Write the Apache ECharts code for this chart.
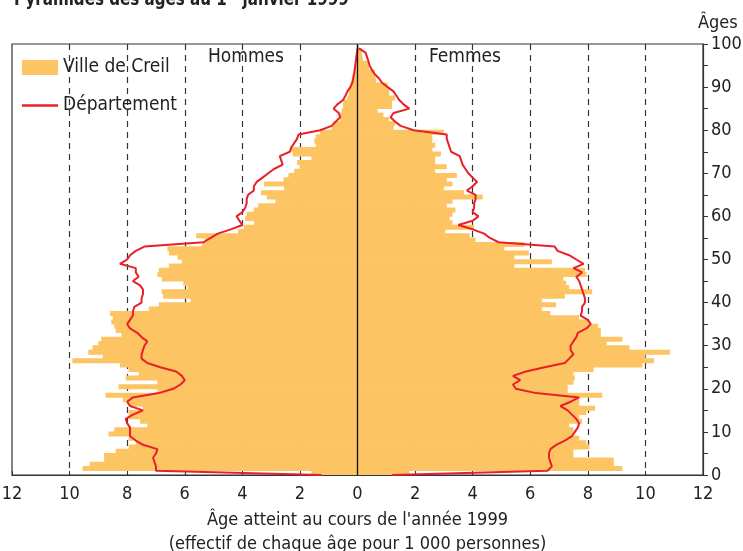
<!DOCTYPE html>
<html>
<head>
<meta charset="utf-8">
<script src="https://cdn.jsdelivr.net/npm/echarts@6/dist/echarts.min.js"></script>
<style>
  html, body { margin: 0; padding: 0; background: #fff; }
  #chart { width: 743px; height: 551px; }
</style>
</head>
<body>
<div id="chart"></div>
<script>
// ages 0..99 (one bar per year of age)
const ages = Array.from({ length: 100 }, (_, i) => i);

// Ville de Creil, effectif pour 1 000 personnes
const hommesCreil = [
  1.6, 9.55, 9.3, 8.8, 8.8, 8.4, 7.95, 7.7, 7.95, 8.65,
  8.45, 7.3, 7.55, 7.95, 7.95, 7.45, 7.95, 8.15, 8.75, 6.95,
  8.3, 6.95, 8.05, 7.6, 7.95, 8.25, 9.9, 8.85, 9.35, 9.2,
  9.0, 8.9, 8.2, 8.4, 8.45, 8.55, 8.5, 8.6, 7.25, 6.9,
  5.8, 6.75, 6.8, 5.9, 6.05, 6.8, 6.95, 6.9, 6.55, 6.1,
  6.25, 6.55, 6.6, 5.4, 5.3, 5.6, 4.15, 3.95, 3.6, 3.9,
  3.85, 3.6, 3.45, 2.85, 3.15, 3.35, 2.55, 3.25, 2.57, 2.4,
  2.2, 2.0, 2.1, 1.6, 2.25, 2.3, 1.45, 1.5, 1.45, 1.3,
  0.9, 0.85, 0.6, 0.6, 0.55, 0.5, 0.5, 0.35, 0.3, 0.3,
  0.25, 0.2, 0.18, 0.12, 0.1, 0.08, 0.06, 0.04, 0.03, 0.01
];
const femmesCreil = [
  1.8, 9.2, 8.9, 8.9, 7.5, 7.5, 8.05, 7.95, 7.7, 7.5,
  7.5, 7.35, 7.8, 7.7, 7.95, 8.25, 7.7, 7.7, 8.5, 7.3,
  7.3, 7.5, 7.55, 7.5, 8.2, 9.9, 10.3, 10.0, 10.85, 9.45,
  8.65, 9.2, 8.45, 8.45, 8.35, 8.05, 7.7, 6.7, 6.4, 6.9,
  6.4, 7.2, 8.15, 7.35, 7.25, 7.15, 7.95, 7.9, 5.45, 6.75,
  5.45, 5.95, 5.1, 5.8, 4.1, 3.9, 3.05, 4.05, 3.3, 3.2,
  3.3, 3.4, 3.1, 3.3, 4.35, 3.7, 3.0, 3.3, 3.1, 3.45,
  2.7, 3.1, 2.7, 2.7, 2.9, 2.6, 2.7, 2.6, 2.6, 3.0,
  1.25, 1.3, 1.1, 0.9, 0.7, 1.2, 1.2, 1.3, 1.1, 1.1,
  1.05, 0.65, 0.62, 0.6, 0.4, 0.38, 0.18, 0.16, 0.15, 0.05
];

// Département
const hommesDept = [
  1.25, 7.0, 7.0, 7.05, 7.1, 7.0, 6.95, 7.45, 7.7, 7.9,
  7.9, 7.9, 8.0, 8.05, 7.8, 7.45, 7.9, 8.0, 7.8, 6.9,
  6.4, 6.15, 6.0, 6.1, 6.3, 6.85, 7.3, 7.5, 7.5, 7.45,
  7.4, 7.3, 7.5, 7.65, 7.9, 8.0, 7.9, 7.8, 7.8, 7.75,
  7.5, 7.5, 7.45, 7.45, 7.55, 7.8, 7.6, 7.7, 7.7, 8.25,
  8.0, 7.9, 7.7, 7.4, 5.35, 5.1, 4.85, 4.4, 4.0, 4.1,
  4.2, 4.0, 3.9, 3.85, 3.85, 3.8, 3.6, 3.6, 3.5, 3.3,
  3.1, 2.9, 2.6, 2.65, 2.7, 2.35, 2.3, 2.2, 2.1, 2.05,
  1.3, 0.9, 0.75, 0.6, 0.65, 0.83, 0.7, 0.5, 0.42, 0.35,
  0.25, 0.18, 0.15, 0.12, 0.1, 0.08, 0.06, 0.04, 0.02, 0.0
];
const femmesDept = [
  1.2, 6.6, 6.75, 6.7, 6.65, 6.65, 6.7, 6.9, 7.2, 7.45,
  7.55, 7.65, 7.7, 7.6, 7.45, 7.3, 7.05, 7.4, 7.7, 6.2,
  5.5, 5.4, 5.65, 5.4, 5.85, 6.5, 7.2, 7.35, 7.5, 7.4,
  7.4, 7.5, 7.6, 7.65, 7.95, 8.1, 8.0, 7.75, 7.8, 7.8,
  7.9, 7.9, 7.85, 7.8, 7.75, 7.7, 7.6, 7.8, 7.5, 7.85,
  7.6, 7.35, 6.95, 6.85, 4.9, 4.6, 4.4, 4.0, 3.5, 4.0,
  4.2, 4.0, 4.05, 4.05, 4.1, 4.1, 3.8, 4.0, 4.15, 4.0,
  3.85, 3.75, 3.65, 3.6, 3.55, 3.25, 3.2, 3.15, 3.1, 3.1,
  1.95, 1.5, 1.3, 1.15, 1.25, 1.8, 1.6, 1.45, 1.35, 1.25,
  1.05, 0.85, 0.75, 0.6, 0.5, 0.42, 0.38, 0.33, 0.28, 0.05
];

const FONT = "'Liberation Sans Narrow', 'DejaVu Sans Condensed', sans-serif";
const ORANGE = '#FDC463';
const RED = '#E8202A';
const INK = '#222';

const chart = echarts.init(document.getElementById('chart'));

const option = {
  animation: false,
  textStyle: { fontFamily: FONT },
  grid: {
    left: 12, right: 40, top: 44, bottom: 76,
    outerBoundsMode: 'none',
    show: true, borderColor: '#333', borderWidth: 1.2
  },
  legend: {
    orient: 'vertical',
    left: 22, top: 58, padding: 0,
    itemWidth: 36, itemHeight: 15, itemGap: 19,
    textStyle: { fontSize: 19, color: INK, fontFamily: FONT },
    data: [
      { name: 'Ville de Creil', icon: 'rect' },
      { name: 'Département', icon: 'path://M0,0 L34,0 L34,2.2 L0,2.2 Z' }
    ]
  },
  graphic: [
    {
      type: 'text', x: 14, y: 9.5, scaleX: 0.84,
      style: {
        text: 'Pyramides des âges au 1{sup|er} janvier 1999',
        font: 'bold 20px ' + FONT, fill: INK, verticalAlign: 'bottom',
        rich: { sup: { fontSize: 12, fontWeight: 'bold', verticalAlign: 'top', fontFamily: FONT } }
      }
    },
    {
      type: 'text', x: 246, y: 57,
      style: { text: 'Hommes', font: '19px ' + FONT, fill: INK, align: 'center', verticalAlign: 'middle' }
    },
    {
      type: 'text', x: 465, y: 57,
      style: { text: 'Femmes', font: '19px ' + FONT, fill: INK, align: 'center', verticalAlign: 'middle' }
    }
  ],
  xAxis: {
    type: 'value', min: -12, max: 12, interval: 2,
    axisLine: { show: true, lineStyle: { color: '#333', width: 1.2 } },
    axisTick: { show: true, inside: true, length: 4, lineStyle: { color: '#333' } },
    axisLabel: { formatter: v => Math.abs(v), fontSize: 18, color: INK, margin: 10 },
    splitLine: { show: true, showMinLine: false, showMaxLine: false, lineStyle: { type: [6, 5], color: '#333', width: 1.2 } },
    name: "Âge atteint au cours de l'année 1999\n(effectif de chaque âge pour 1 000 personnes)",
    nameLocation: 'middle', nameGap: 31,
    nameTextStyle: { fontSize: 18, color: INK, lineHeight: 24 }
  },
  yAxis: [
    { type: 'category', data: ages, show: false, boundaryGap: true },
    {
      type: 'value', min: 0, max: 100, interval: 10, position: 'right',
      axisLine: { show: true, lineStyle: { color: '#333', width: 1.2 } },
      axisTick: { show: true, length: 5, lineStyle: { color: '#333' } },
      minorTick: { show: true, splitNumber: 2, length: 5, lineStyle: { color: '#333' } },
      axisLabel: { fontSize: 18, color: INK, margin: 8 },
      splitLine: { show: false },
      name: 'Âges', nameLocation: 'end', nameGap: 12,
      nameTextStyle: { fontSize: 18, color: INK, align: 'left', verticalAlign: 'bottom', padding: [0, 0, 0, -5] }
    }
  ],
  series: [
    {
      name: 'Ville de Creil', type: 'bar', yAxisIndex: 0,
      data: hommesCreil.map(v => -v),
      barWidth: 5, barGap: '-100%',
      itemStyle: { color: ORANGE },
      z: 2
    },
    {
      name: 'Ville de Creil', type: 'bar', yAxisIndex: 0,
      data: femmesCreil,
      barWidth: 5, barGap: '-100%',
      itemStyle: { color: ORANGE },
      z: 2
    },
    {
      name: 'Département', type: 'line', yAxisIndex: 1,
      data: hommesDept.map((v, i) => [-v, ages[i]]),
      symbol: 'none', lineStyle: { color: RED, width: 2 }, itemStyle: { color: RED },
      z: 4
    },
    {
      name: 'Département', type: 'line', yAxisIndex: 1,
      data: femmesDept.map((v, i) => [v, ages[i]]),
      symbol: 'none', lineStyle: { color: RED, width: 2 }, itemStyle: { color: RED },
      z: 4,
      markLine: {
        silent: true, symbol: 'none', label: { show: false },
        lineStyle: { color: '#111', type: 'solid', width: 1.3 },
        data: [{ xAxis: 0 }]
      }
    }
  ]
};

chart.setOption(option);
</script>
</body>
</html>
